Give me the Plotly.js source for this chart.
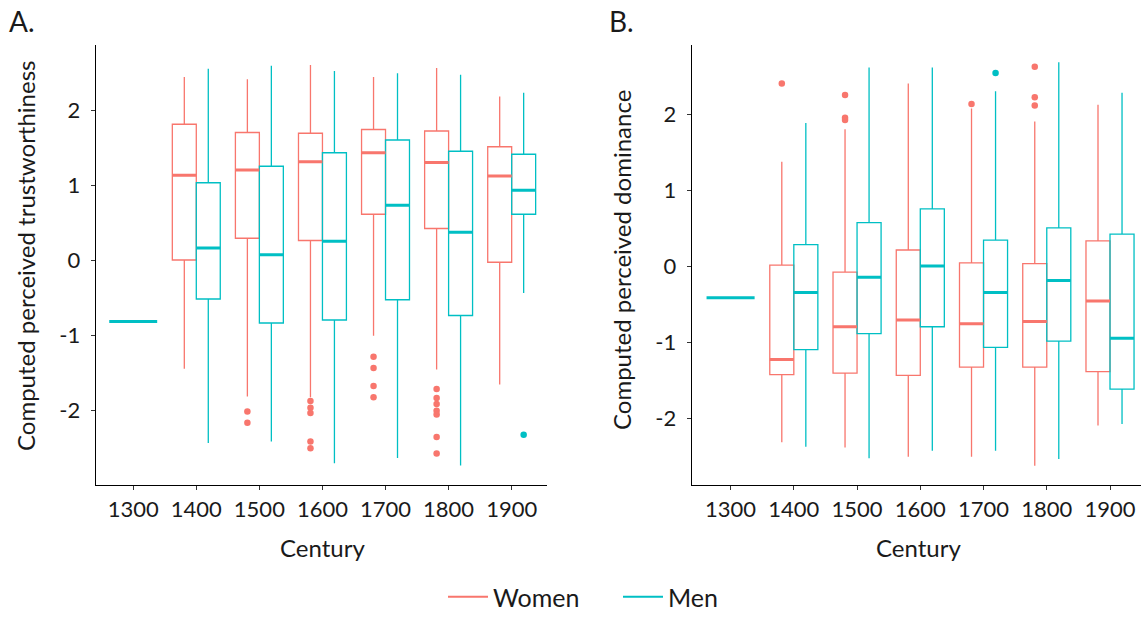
<!DOCTYPE html>
<html>
<head>
<meta charset="utf-8">
<script src="https://cdn.plot.ly/plotly-3.0.1.min.js"></script>
<style>
  html, body { margin: 0; padding: 0; background: #ffffff; }
  #chart { width: 1141px; height: 620px; }
</style>
</head>
<body>
<div id="chart"></div>
<script>
// ---------- DATA ----------
const centuries = ['1300', '1400', '1500', '1600', '1700', '1800', '1900'];
const womenCenturies = ['1400', '1500', '1600', '1700', '1800', '1900'];
const yTickVals = [-2, -1, 0, 1, 2];
const yTickText = ['-2', '-1', '0', '1', '2'];

// Panel A: computed perceived trustworthiness
const trustWomenLow  = [-1.45, -1.82, -1.83, -1.01, -1.46, -1.66];
const trustWomenQ1   = [ 0.00,  0.29,  0.26,  0.61,  0.42, -0.03];
const trustWomenMed  = [ 1.13,  1.20,  1.31,  1.43,  1.30,  1.12];
const trustWomenQ3   = [ 1.81,  1.70,  1.69,  1.74,  1.72,  1.51];
const trustWomenHigh = [ 2.44,  2.41,  2.60,  2.44,  2.56,  2.18];

const trustMenLow  = [-0.82, -2.44, -2.42, -2.71, -2.64, -2.74, -0.44];
const trustMenQ1   = [-0.82, -0.52, -0.84, -0.80, -0.53, -0.74,  0.61];
const trustMenMed  = [-0.82,  0.16,  0.07,  0.25,  0.73,  0.37,  0.93];
const trustMenQ3   = [-0.82,  1.03,  1.25,  1.43,  1.60,  1.45,  1.41];
const trustMenHigh = [-0.82,  2.55,  2.59,  2.52,  2.49,  2.47,  2.23];

const trustWomenOutX = ['1500', '1500', '1600', '1600', '1600', '1600', '1600',
                        '1700', '1700', '1700', '1700',
                        '1800', '1800', '1800', '1800', '1800', '1800', '1800'];
const trustWomenOutY = [-2.02, -2.17, -1.88, -1.97, -2.04, -2.42, -2.51,
                        -1.29, -1.44, -1.68, -1.83,
                        -1.72, -1.84, -1.92, -2.01, -2.06, -2.36, -2.58];
const trustMenOutX = ['1900'];
const trustMenOutY = [-2.33];

// Panel B: computed perceived dominance
const domWomenLow  = [-2.31, -2.38, -2.50, -2.50, -2.62, -2.09];
const domWomenQ1   = [-1.42, -1.40, -1.43, -1.32, -1.32, -1.38];
const domWomenMed  = [-1.22, -0.79, -0.70, -0.75, -0.72, -0.45];
const domWomenQ3   = [ 0.02, -0.07,  0.22,  0.05,  0.04,  0.34];
const domWomenHigh = [ 1.38,  1.81,  2.41,  2.08,  1.91,  2.13];

const domMenLow  = [-0.41, -2.37, -2.52, -2.42, -2.42, -2.53, -2.07];
const domMenQ1   = [-0.41, -1.09, -0.88, -0.79, -1.06, -0.98, -1.61];
const domMenMed  = [-0.41, -0.34, -0.14,  0.01, -0.34, -0.18, -0.94];
const domMenQ3   = [-0.41,  0.29,  0.58,  0.76,  0.35,  0.51,  0.43];
const domMenHigh = [-0.41,  1.89,  2.62,  2.62,  2.31,  2.69,  2.29];

const domWomenOutX = ['1400', '1500', '1500', '1500', '1700', '1800', '1800', '1800'];
const domWomenOutY = [ 2.41,   2.26,   1.96,   1.93,   2.14,   2.63,   2.23,   2.12];
const domMenOutX = ['1700'];
const domMenOutY = [2.55];

// ---------- STYLE ----------
const WOMEN = '#F8766D';
const MEN = '#00BFC4';
const FONT = 'Lato, "Open Sans", sans-serif';
const TXT = '#1a1a1a';
const W = 1141, H = 620;
const BOXGAP = 0.24;
const DODGE = (1 - BOXGAP) / 4;   // centre offset of each dodged box

function px(x) { return x / W; }
function py(y) { return 1 - y / H; }

function boxTrace(xs, lo, q1, med, q3, hi, color, xa, ya, ag, og, lw) {
  return {
    type: 'box', x: xs, lowerfence: lo, q1: q1, median: med, q3: q3, upperfence: hi,
    xaxis: xa, yaxis: ya, alignmentgroup: ag, offsetgroup: og,
    line: { color: color, width: lw }, fillcolor: 'rgba(255,255,255,0)',
    whiskerwidth: 0, boxpoints: false, showlegend: false, hoverinfo: 'skip'
  };
}

function panelTraces(xa, ya, xo, wLo, wQ1, wMed, wQ3, wHi, mLo, mQ1, mMed, mQ3, mHi,
                     wOutX, wOutY, mOutX, mOutY) {
  const t = [];
  t.push(boxTrace(womenCenturies, wLo, wQ1, wMed, wQ3, wHi, WOMEN, xa, ya, 'g', 'w', 1.3));
  const mc = centuries.slice(1);
  t.push(boxTrace(mc, mLo.slice(1), mQ1.slice(1), mMed.slice(1), mQ3.slice(1), mHi.slice(1), MEN, xa, ya, 'g', 'm', 1.3));
  // thick medians
  t.push(boxTrace(womenCenturies, wMed, wMed, wMed, wMed, wMed, WOMEN, xa, ya, 'g', 'w', 3));
  t.push(boxTrace(mc, mMed.slice(1), mMed.slice(1), mMed.slice(1), mMed.slice(1), mMed.slice(1), MEN, xa, ya, 'g', 'm', 3));
  // men only in 1300 (single group, full width)
  t.push(boxTrace([centuries[0]], [mLo[0]], [mQ1[0]], [mMed[0]], [mQ3[0]], [mHi[0]], MEN, xa, ya, 'solo', 'solo', 3));
  // outliers, dodged like the boxes
  t.push({
    type: 'scatter', mode: 'markers', xaxis: xo, yaxis: ya,
    x: wOutX.map(c => centuries.indexOf(c) - DODGE), y: wOutY,
    marker: { color: WOMEN, size: 6.5 }, showlegend: false, hoverinfo: 'skip'
  });
  t.push({
    type: 'scatter', mode: 'markers', xaxis: xo, yaxis: ya,
    x: mOutX.map(c => centuries.indexOf(c) + DODGE), y: mOutY,
    marker: { color: MEN, size: 6.5 }, showlegend: false, hoverinfo: 'skip'
  });
  return t;
}

const traces = []
  .concat(panelTraces('x', 'y', 'x3', trustWomenLow, trustWomenQ1, trustWomenMed, trustWomenQ3, trustWomenHigh,
                      trustMenLow, trustMenQ1, trustMenMed, trustMenQ3, trustMenHigh,
                      trustWomenOutX, trustWomenOutY, trustMenOutX, trustMenOutY))
  .concat(panelTraces('x2', 'y2', 'x4', domWomenLow, domWomenQ1, domWomenMed, domWomenQ3, domWomenHigh,
                      domMenLow, domMenQ1, domMenMed, domMenQ3, domMenHigh,
                      domWomenOutX, domWomenOutY, domMenOutX, domMenOutY));

// legend entries (line keys)
traces.push({ type: 'scatter', mode: 'lines', x: [null], y: [null], xaxis: 'x3', yaxis: 'y',
  name: 'Women', line: { color: WOMEN, width: 2 }, hoverinfo: 'skip' });
traces.push({ type: 'scatter', mode: 'lines', x: [null], y: [null], xaxis: 'x3', yaxis: 'y',
  name: 'Men', line: { color: MEN, width: 2 }, hoverinfo: 'skip' });

const rangeA = [-0.59, 6.56];
const rangeB = [-0.61, 6.49];
const yDomain = [py(485), py(45)];

function catAxis(domain, range, anchor) {
  return {
    domain: domain, anchor: anchor, type: 'category',
    categoryorder: 'array', categoryarray: centuries,
    range: range, showline: true, linecolor: '#000', linewidth: 1.3,
    ticks: 'outside', ticklen: 4, tickcolor: '#333', tickwidth: 1,
    ticklabelstandoff: 0,
    tickfont: { family: FONT, size: 22, color: TXT },
    showgrid: false, zeroline: false, fixedrange: true
  };
}
function valAxis(range, anchor) {
  return {
    domain: yDomain, anchor: anchor, range: range,
    tickvals: yTickVals, ticktext: yTickText,
    showline: true, linecolor: '#000', linewidth: 1.3,
    ticks: 'outside', ticklen: 4, tickcolor: '#333', tickwidth: 1,
    ticklabelstandoff: 6,
    tickfont: { family: FONT, size: 22, color: TXT },
    showgrid: false, zeroline: false, fixedrange: true
  };
}
function overlayAxis(over, range) {
  return { overlaying: over, type: 'linear', range: range, visible: false, fixedrange: true };
}

const annFont = { family: FONT, size: 24, color: TXT };
const layout = {
  width: W, height: H,
  margin: { l: 0, r: 0, t: 0, b: 0 },
  paper_bgcolor: '#fff', plot_bgcolor: '#fff',
  boxmode: 'group', boxgap: BOXGAP, boxgroupgap: 0,
  showlegend: true,
  legend: {
    orientation: 'h', x: px(443), xanchor: 'left', y: 0, yanchor: 'bottom',
    entrywidth: 120, entrywidthmode: 'pixels',
    font: { family: FONT, size: 25, color: TXT }, itemwidth: 40, bgcolor: 'rgba(0,0,0,0)'
  },
  xaxis: catAxis([px(96), px(547)], rangeA, 'y'),
  yaxis: valAxis([-3.0, 2.867], 'x'),
  xaxis2: catAxis([px(692), 1], rangeB, 'y2'),
  yaxis2: valAxis([-2.872, 2.917], 'x2'),
  xaxis3: overlayAxis('x', rangeA),
  xaxis4: overlayAxis('x2', rangeB),
  annotations: [
    { text: 'A.', xref: 'paper', yref: 'paper', x: px(7), y: py(21), xanchor: 'left', yanchor: 'middle',
      showarrow: false, font: { family: FONT, size: 28, color: TXT } },
    { text: 'B.', xref: 'paper', yref: 'paper', x: px(607), y: py(21), xanchor: 'left', yanchor: 'middle',
      showarrow: false, font: { family: FONT, size: 28, color: TXT } },
    { text: 'Century', xref: 'paper', yref: 'paper', x: px(322), y: py(547), xanchor: 'center', yanchor: 'middle',
      showarrow: false, font: annFont },
    { text: 'Century', xref: 'paper', yref: 'paper', x: px(918), y: py(547), xanchor: 'center', yanchor: 'middle',
      showarrow: false, font: annFont },
    { text: 'Computed perceived trustworthiness', xref: 'paper', yref: 'paper', x: px(26), y: py(256),
      xanchor: 'center', yanchor: 'middle', textangle: -90, showarrow: false, font: annFont },
    { text: 'Computed perceived dominance', xref: 'paper', yref: 'paper', x: px(621), y: py(260),
      xanchor: 'center', yanchor: 'middle', textangle: -90, showarrow: false, font: annFont }
  ]
};

Plotly.newPlot('chart', traces, layout, { displayModeBar: false, staticPlot: true });
</script>
</body>
</html>
